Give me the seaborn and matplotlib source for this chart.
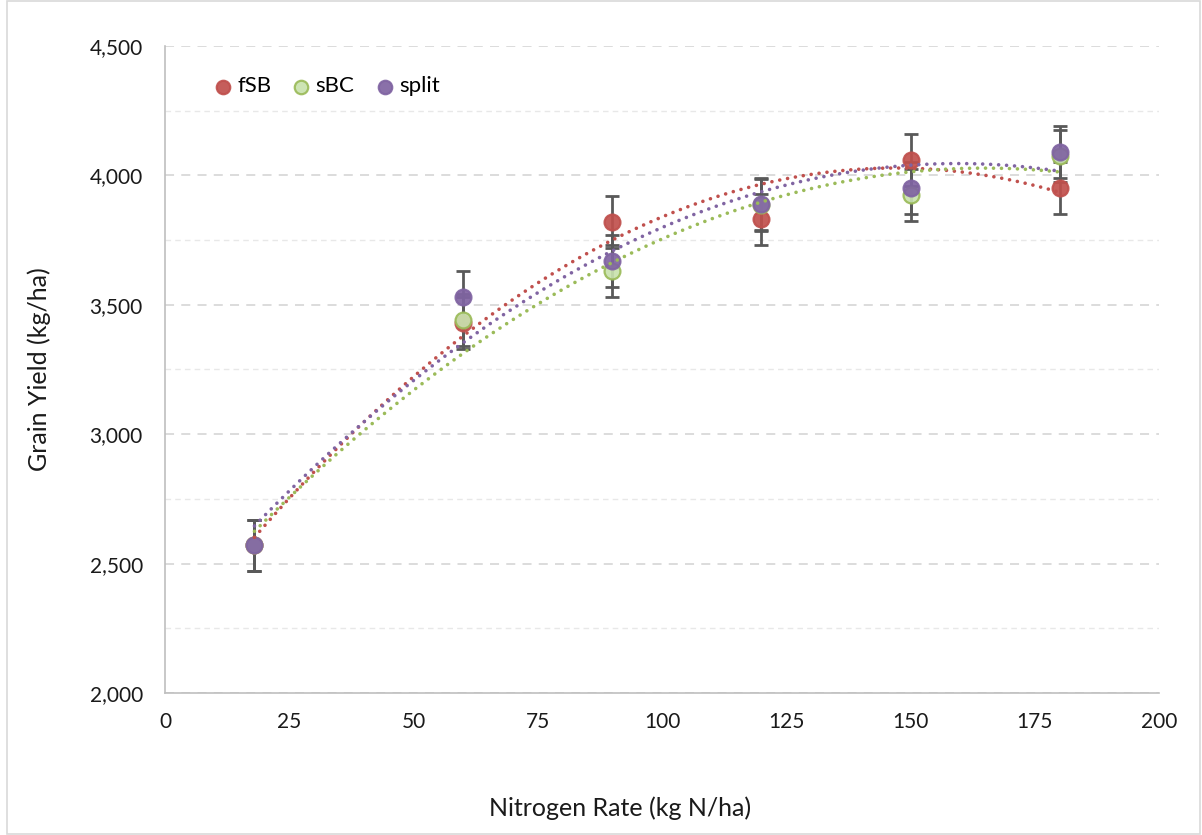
import numpy as np
import pandas as pd
import matplotlib
matplotlib.use("Agg")
import matplotlib.pyplot as plt
from matplotlib.ticker import FuncFormatter, MultipleLocator
import seaborn as sns

# ---- data ----
n_rate = [18, 60, 90, 120, 150, 180]
fsb = [2570, 3430, 3820, 3830, 4060, 3950]
sbc = [2570, 3440, 3630, 3885, 3925, 4075]
split = [2570, 3530, 3670, 3890, 3950, 4090]
err_fsb = [100, 100, 100, 100, 100, 100]
err_sbc = [100, 100, 100, 100, 100, 100]
err_split = [100, 100, 100, 100, 100, 100]
series_names = ["fSB", "sBC", "split"]

df = pd.DataFrame({
    "N": n_rate * 3,
    "Yield": fsb + sbc + split,
    "Err": err_fsb + err_sbc + err_split,
    "Treatment": [s for s in series_names for _ in n_rate],
})

fill = {"fSB": "#C0504D", "sBC": "#C9E2AE", "split": "#8064A2"}
edge = {"fSB": "#C0504D", "sBC": "#9BBB59", "split": "#8064A2"}
line_col = {"fSB": "#C0504D", "sBC": "#9BBB59", "split": "#8064A2"}

sns.set_theme(style="white")
plt.rcParams["font.family"] = ["Lato", "DejaVu Sans"]

fig = plt.figure(figsize=(12.02, 8.35), dpi=100)
ax = fig.add_axes([165 / 1202, 1 - 693 / 835, (1159 - 165) / 1202, (693 - 46) / 835])

# trendlines (2nd-order polynomial)
for s in series_names:
    sub = df[df.Treatment == s]
    sns.regplot(data=sub, x="N", y="Yield", order=2, ci=None, scatter=False, ax=ax,
                line_kws=dict(color=line_col[s], lw=2.6, ls=(0, (0.01, 2.2)),
                              dash_capstyle="round", zorder=5))

# points with error bars
for i, s in enumerate(series_names):
    sub = df[df.Treatment == s]
    ax.errorbar(sub.N, sub.Yield, yerr=sub.Err, fmt="none", ecolor="#595959",
                elinewidth=2, capsize=5, capthick=2, zorder=3 + i * 0.1)
    sns.scatterplot(data=sub, x="N", y="Yield", ax=ax, s=130, color=fill[s],
                    edgecolor=edge[s], linewidth=1.6, zorder=4 + i * 0.1,
                    label=s, alpha=0.92, legend=True)

ax.set_xlim(0, 200)
ax.set_ylim(2000, 4500)
ax.xaxis.set_major_locator(MultipleLocator(25))
ax.yaxis.set_major_locator(MultipleLocator(500))
ax.yaxis.set_minor_locator(MultipleLocator(250))
ax.yaxis.set_major_formatter(FuncFormatter(lambda v, p: f"{v:,.0f}"))
ax.grid(axis="y", which="major", color="#D9D9D9", ls=(0, (5, 4)), lw=1.3)
ax.grid(axis="y", which="minor", color="#E8E8E8", ls=(0, (4, 3)), lw=1.0)
ax.grid(axis="x", visible=False)
ax.set_axisbelow(True)
for sp in ["top", "right"]:
    ax.spines[sp].set_visible(False)
for sp in ["left", "bottom"]:
    ax.spines[sp].set_color("#BFBFBF")
    ax.spines[sp].set_linewidth(1.2)
ax.tick_params(axis="both", which="both", length=0, labelsize=15, colors="#1a1a1a")
ax.tick_params(axis="y", pad=16)
ax.tick_params(axis="x", pad=14)
ax.set_xlabel("Nitrogen Rate (kg N/ha)", fontsize=18, color="#1a1a1a")
ax.set_ylabel("Grain Yield (kg/ha)", fontsize=18, color="#1a1a1a", labelpad=28)
ax.xaxis.set_label_coords((620 - 165) / 994, -(808 - 693) / 647)
ax.xaxis.label.set_va("center")

handles, labels = ax.get_legend_handles_labels()
leg = ax.legend(handles, labels, loc="upper left", bbox_to_anchor=(0.0268, 0.984), ncol=3,
                frameon=False, fontsize=16, handlelength=1.0, handletextpad=0.15,
                columnspacing=0.85, markerscale=0.85)
for t in leg.get_texts():
    t.set_color("#000000")

# outer chart border
fig.patches.append(plt.Rectangle((0.006, 0.001), 0.992, 0.998, transform=fig.transFigure,
                                 fill=False, edgecolor="#D9D9D9", lw=1.2))

fig.savefig("out.png", dpi=100)
